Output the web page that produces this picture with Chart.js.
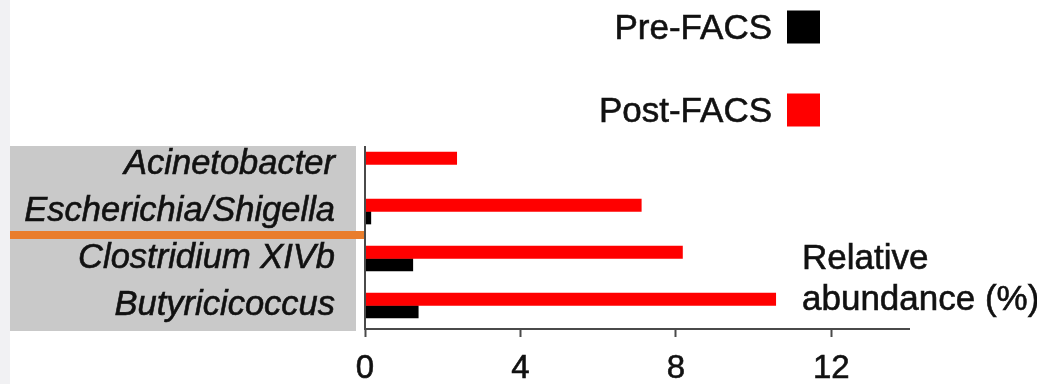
<!DOCTYPE html>
<html>
<head>
<meta charset="utf-8">
<script src="https://cdn.jsdelivr.net/npm/chart.js@4/dist/chart.umd.min.js"></script>
<style>
  html, body { margin: 0; padding: 0; background: #fff; }
  #wrap { width: 1037px; height: 384px; position: relative; }
</style>
</head>
<body>
<div id="wrap"><canvas id="c" width="1037" height="384"></canvas></div>
<script>
// Genera shown on the vertical axis (top to bottom)
const genera = ['Acinetobacter', 'Escherichia/Shigella', 'Clostridium XIVb', 'Butyricicoccus'];
// Relative abundance (%) per genus
const postFacs = [2.36, 7.11, 8.17, 10.57];
const preFacs = [0, 0.15, 1.23, 1.37];
// Horizontal axis
const xTicks = [0, 4, 8, 12];
const xMax = 14;
const axisTitle = ['Relative', 'abundance (%)'];
const legendOrder = ['Pre-FACS', 'Post-FACS'];

const FONT = '"Liberation Sans", Arial, Helvetica, sans-serif';
const AXIS_COLOR = '#4a4a4a';
const TEXT_COLOR = '#111';
const TEXT_STROKE = 0.6;

// Text drawn with a thin outline so it reads a little heavier
function heavyText(ctx, str, x, y) {
  ctx.fillText(str, x, y);
  ctx.strokeText(str, x, y);
}

// Background panels: side strip, grey label panel and orange divider
const panelPlugin = {
  id: 'panels',
  beforeDraw(chart) {
    const { ctx, chartArea, scales } = chart;
    ctx.save();
    ctx.fillStyle = '#fff';
    ctx.fillRect(0, 0, chart.width, chart.height);
    ctx.fillStyle = '#f1f1f3';
    ctx.fillRect(0, 0, 10, chart.height);
    ctx.fillStyle = '#c9c9c9';
    ctx.fillRect(10, chartArea.top + 5, chartArea.left - 19, chartArea.bottom - chartArea.top - 3);
    const y = scales.y;
    const mid = (y.getPixelForValue(1) + y.getPixelForValue(2)) / 2;
    ctx.fillStyle = '#e97d2c';
    ctx.fillRect(10, mid - 4, chartArea.left - 10, 8);
    ctx.restore();
  },
  afterDraw(chart) {
    const { ctx, chartArea } = chart;
    ctx.save();
    // vertical axis line
    ctx.strokeStyle = AXIS_COLOR;
    ctx.lineWidth = 2;
    ctx.beginPath();
    ctx.moveTo(chartArea.left, chartArea.top + 5);
    ctx.lineTo(chartArea.left, chartArea.bottom);
    ctx.stroke();
    // axis title inside the plot
    ctx.fillStyle = TEXT_COLOR;
    ctx.strokeStyle = TEXT_COLOR;
    ctx.lineWidth = TEXT_STROKE;
    ctx.font = '35px ' + FONT;
    ctx.textAlign = 'left';
    ctx.textBaseline = 'alphabetic';
    const tx = chartArea.right - 107;
    heavyText(ctx, axisTitle[0], tx, 269);
    heavyText(ctx, axisTitle[1], tx, 310);
    // legend: label then swatch on the right
    const items = legendOrder.map(l => chart.data.datasets.find(d => d.label === l));
    const boxRight = 820, box = 33;
    const centers = [27, 110];
    items.forEach((ds, i) => {
      const cy = centers[i];
      ctx.fillStyle = ds.backgroundColor;
      ctx.fillRect(boxRight - box, cy - box / 2, box, box);
      ctx.fillStyle = TEXT_COLOR;
      ctx.textAlign = 'right';
      ctx.textBaseline = 'middle';
      heavyText(ctx, ds.label, boxRight - box - 15, cy + 2);
    });
    ctx.restore();
  }
};

new Chart(document.getElementById('c'), {
  type: 'bar',
  data: {
    labels: genera,
    datasets: [
      { label: 'Post-FACS', data: postFacs, backgroundColor: '#ff0000', barThickness: 12.5 },
      { label: 'Pre-FACS', data: preFacs, backgroundColor: '#000000', barThickness: 12.5 }
    ]
  },
  options: {
    indexAxis: 'y',
    responsive: false,
    animation: false,
    devicePixelRatio: 1,
    layout: { padding: { left: 0, right: 128, top: 141, bottom: 0 } },
    plugins: { legend: { display: false }, tooltip: { enabled: false } },
    scales: {
      x: {
        type: 'linear',
        min: 0,
        max: xMax,
        afterFit(s) { s.height = 55; },
        afterBuildTicks(s) { s.ticks = xTicks.map(v => ({ value: v })); },
        border: { display: true, color: AXIS_COLOR, width: 2 },
        grid: { display: true, drawOnChartArea: false, drawTicks: true, tickLength: 8, tickColor: AXIS_COLOR, tickWidth: 2 },
        ticks: {
          color: TEXT_COLOR, padding: 12, textStrokeColor: TEXT_COLOR, textStrokeWidth: TEXT_STROKE,
          font: { family: FONT, size: 33 }
        }
      },
      y: {
        type: 'category',
        afterFit(s) { s.width = 365; },
        border: { display: false },
        grid: { display: false },
        ticks: {
          color: TEXT_COLOR, padding: 22, textStrokeColor: TEXT_COLOR, textStrokeWidth: TEXT_STROKE,
          font: { family: FONT, size: 34.5, style: 'italic' }
        }
      }
    }
  },
  plugins: [panelPlugin]
});
</script>
</body>
</html>
